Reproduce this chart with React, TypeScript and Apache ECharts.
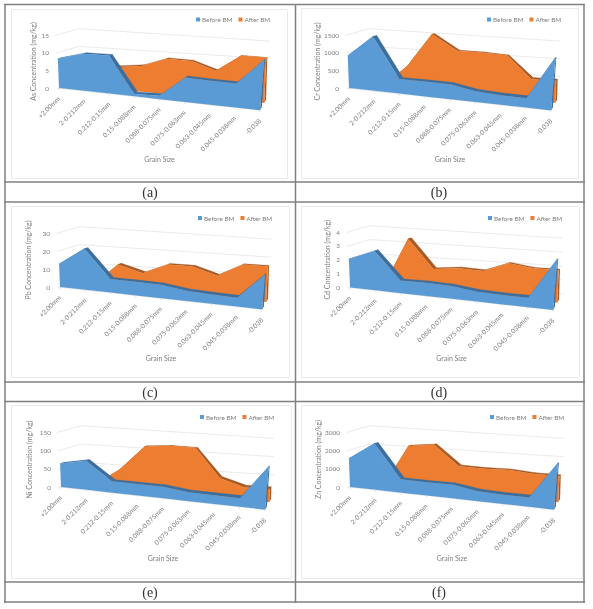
import React, { useEffect, useRef } from "react";
import * as echarts from "echarts";

const categories = ["+2.00mm", "2-0.212mm", "0.212-0.15mm", "0.15-0.088mm", "0.088-0.075mm", "0.075-0.063mm", "0.063-0.045mm", "0.045-0.038mm", "-0.038"];

const asBefore = [8.3, 9.9, 9.7, 0.6, 0.8, 5.4, 5.1, 4.9, 9.9];
const asAfter = [5, 6, 6.05, 6.7, 8.9, 8.65, 6.6, 10.5, 10.3];
const crBefore = [915, 1456, 374, 363, 346, 236, 204, 190, 1034];
const crAfter = [100, 30, 623, 1497, 1095, 1078, 1034, 504, 507];
const pbBefore = [12.8, 21.6, 6.8, 6.5, 6.1, 4.4, 3.9, 3.5, 13.4];
const pbAfter = [1, 1, 12.6, 9, 14.1, 13.9, 10.2, 16.1, 16];
const cdBefore = [2.05, 2.69, 0.82, 0.82, 0.75, 0.56, 0.5, 0.49, 2.54];
const cdAfter = [0.1, 0.05, 3.43, 1.48, 1.63, 1.56, 2.13, 1.9, 1.89];
const niBefore = [64, 75, 28, 27, 26, 19, 18, 17, 81];
const niAfter = [3, 5, 49, 111, 115, 113, 45, 28, 29];
const znBefore = [1560, 2390, 655, 620, 616, 426, 380, 366, 1755];
const znAfter = [100, 50, 2195, 2320, 1315, 1260, 1272, 1165, 1150];

const names = ["As", "Cr", "Pb", "Cd", "Ni", "Zn"];
const captions = ["(a)", "(b)", "(c)", "(d)", "(e)", "(f)"];
const before = [asBefore, crBefore, pbBefore, cdBefore, niBefore, znBefore];
const after = [asAfter, crAfter, pbAfter, cdAfter, niAfter, znAfter];
const yMax = [15, 1500, 30, 4, 150, 3000];
const yStep = [5, 500, 10, 1, 50, 1000];

const FONT = "Lato";
const GRAY = "#7f7f7f";
const BLUE = "#5b9bd5", BLUE_D = "#3c6e9e";
const ORANGE = "#ed7d31", ORANGE_D = "#a85a22";

// panel layout: [plot left, plot right, zero y, top-tick y, y-name gap, box x, box y, box w, box h, legend x, legend y, caption x, caption y]
const layout = [
  [59, 260, 88, 35, 23, 11, 9, 276, 169, 196, 16.5, 150, 192],
  [349, 551, 88, 35, 28, 301, 8, 277, 170, 487, 16.5, 439, 192],
  [60, 262, 287, 233, 29, 11, 206, 278, 171, 198, 215, 150, 392],
  [350, 553, 287.5, 232, 20, 301, 206, 278, 171, 488, 215, 439, 392],
  [61, 265, 487, 432, 29, 11, 405, 280, 173, 200, 414, 150, 592],
  [350, 554, 487, 432, 29, 301, 405, 281, 173, 490, 414, 439, 592],
];

const SLOPE = 0.111;
const K = 0.45;

function projector(api: any, left: number, right: number) {
  return (i: number, v: number, z: number) => {
    const c = api.coord([i, v]);
    const c0 = api.coord([i, 0]);
    const t = (c[0] - left) / (right - left);
    const h = c0[1] - c[1];
    const ox = 19.7 + (9.3 - 19.7) * t;
    const oy = -6.3 + (-16.3 + 6.3) * t;
    const X = c[0] + z * ox;
    const Y = c0[1] + SLOPE * (c[0] - left) + z * oy;
    const s = 1 + K * t * (1 - z);
    const lean = (-0.04 + 0.125 * t) * (1 - z);
    return [X + h * s * lean, Y - h * s];
  };
}

function layerItem(values: number[], left: number, right: number, z0: number, z1: number, face: string, dark: string) {
  return (params: any, api: any) => {
    if (params.dataIndex !== 0) return null;
    const P = projector(api, left, right);
    const n = values.length;
    const children: any[] = [];
    for (let i = 0; i < n - 1; i++) {
      children.push({
        type: "polygon",
        shape: { points: [P(i, values[i], z0), P(i + 1, values[i + 1], z0), P(i + 1, values[i + 1], z1), P(i, values[i], z1)] },
        style: { fill: dark, stroke: dark, lineWidth: 0.3 },
      });
    }
    children.push({
      type: "polygon",
      shape: { points: [P(n - 1, values[n - 1], z0), P(n - 1, values[n - 1], z1), P(n - 1, 0, z1), P(n - 1, 0, z0)] },
      style: { fill: dark },
    });
    const facePts: number[][] = [];
    for (let i = 0; i < n; i++) facePts.push(P(i, values[i], z0));
    for (let i = n - 1; i >= 0; i--) facePts.push(P(i, 0, z0));
    children.push({ type: "polygon", shape: { points: facePts }, style: { fill: face } });
    return { type: "group", children };
  };
}

function wallItem(max: number, step: number, left: number, right: number) {
  return (params: any, api: any) => {
    if (params.dataIndex !== 0) return null;
    const P = projector(api, left, right);
    const children: any[] = [];
    for (let v = 0; v <= max + 1e-9; v += step) {
      const a = P(0, v, -0.08), b = P(0, v, 1), c = P(categories.length - 1, v, 1);
      children.push({ type: "polyline", shape: { points: [a, b, c] }, style: { fill: "none", stroke: "#e4e4e4", lineWidth: 0.8 } });
    }
    return { type: "group", children };
  };
}

function labelItem(left: number, right: number) {
  return (params: any, api: any) => {
    const P = projector(api, left, right);
    const i = params.dataIndex;
    const p = P(i, 0, 0);
    return {
      type: "group",
      children: [
        { type: "line", shape: { x1: p[0], y1: p[1], x2: p[0], y2: p[1] + 2 }, style: { stroke: "#dcdcdc", lineWidth: 0.8 } },
        {
          type: "text",
          x: p[0] - 0.5,
          y: p[1] + 9,
          rotation: Math.PI / 4,
          style: { text: categories[i], textAlign: "right", textVerticalAlign: "middle", fontSize: 6.6, fontFamily: FONT, fill: GRAY },
        },
      ],
    };
  };
}

function baselineItem(left: number, right: number) {
  return (params: any, api: any) => {
    if (params.dataIndex !== 0) return null;
    const P = projector(api, left, right);
    return { type: "line", shape: { x1: P(0, 0, 0)[0] - 2, y1: P(0, 0, 0)[1], x2: P(8, 0, 0)[0], y2: P(8, 0, 0)[1] }, style: { stroke: "#e2e2e2", lineWidth: 0.8 } };
  };
}

function buildOption() {
  const grid: any[] = [], xAxis: any[] = [], yAxis: any[] = [], legend: any[] = [], series: any[] = [], graphic: any[] = [];
  layout.forEach((L, k) => {
    const [left, right, y0, yTop, nameGap, bx, by, bw, bh, lx, ly, cx, cy] = L;
    grid.push({ left, top: yTop, width: right - left, height: y0 - yTop });
    xAxis.push({
      gridIndex: k, type: "category", data: categories, boundaryGap: false,
      axisLine: { show: false }, axisTick: { show: false }, axisLabel: { show: false }, splitLine: { show: false },
      name: "Grain Size", nameLocation: "middle", nameGap: 67,
      nameTextStyle: { fontFamily: FONT, fontSize: 7, color: GRAY },
    });
    yAxis.push({
      gridIndex: k, type: "value", min: 0, max: yMax[k], interval: yStep[k],
      axisLine: { show: false }, axisTick: { show: false }, splitLine: { show: false },
      axisLabel: { fontFamily: FONT, fontSize: 6.5, color: GRAY, margin: 10, formatter: (v: number) => String(v) },
      name: names[k] + " Concentration (mg/kg)", nameLocation: "middle", nameGap,
      nameTextStyle: { fontFamily: FONT, fontSize: 7, color: GRAY },
    });
    legend.push({
      left: lx, top: ly, icon: "rect", itemWidth: 4, itemHeight: 4, itemGap: 6, padding: 0,
      selectedMode: false,
      data: ["Before BM", "After BM"],
      textStyle: { fontFamily: FONT, fontSize: 6.4, color: GRAY, padding: [0, 0, 0, -3] },
    });
    const pts = categories.map((_, i) => [i, 0]);
    const base = { type: "custom", xAxisIndex: k, yAxisIndex: k, silent: true, encode: { x: 0, y: 1 } };
    series.push({ ...base, name: "wall" + k, data: pts, renderItem: wallItem(yMax[k], yStep[k], left, right) });
    series.push({ ...base, name: "After BM", data: after[k].map((v, i) => [i, v]), itemStyle: { color: ORANGE }, renderItem: layerItem(after[k], left, right, 0.45, 0.65, ORANGE, ORANGE_D) });
    series.push({ ...base, name: "baseline" + k, data: pts, renderItem: baselineItem(left, right) });
    series.push({ ...base, name: "Before BM", data: before[k].map((v, i) => [i, v]), itemStyle: { color: BLUE }, renderItem: layerItem(before[k], left, right, 0, 0.2, BLUE, BLUE_D) });
    series.push({ ...base, name: "labels" + k, data: pts, renderItem: labelItem(left, right) });
    graphic.push({ type: "rect", z: -10, shape: { x: bx + 0.5, y: by + 0.5, width: bw, height: bh }, style: { fill: "#fff", stroke: "#eaeaea", lineWidth: 1 } });
    graphic.push({ type: "text", x: cx, y: cy, z: 5, style: { text: captions[k], textAlign: "center", textVerticalAlign: "middle", fontFamily: "Liberation Serif", fontSize: 14, fill: "#333" } });
  });
  const hLines = [4.5, 182, 202, 382, 401.5, 582, 602];
  const vLines = [5, 295.5, 584];
  hLines.forEach((y) => graphic.push({ type: "line", z: 5, shape: { x1: 4, y1: y, x2: 585, y2: y }, style: { stroke: "#808080", lineWidth: 1.5 } }));
  vLines.forEach((x) => graphic.push({ type: "line", z: 5, shape: { x1: x, y1: 4, x2: x, y2: 603 }, style: { stroke: "#808080", lineWidth: 1.5 } }));
  return { animation: false, backgroundColor: "#fff", grid, xAxis, yAxis, legend, series, graphic };
}

export default function App() {
  const ref = useRef<HTMLDivElement>(null);
  useEffect(() => {
    const chart = echarts.init(ref.current!, undefined, { renderer: "svg" });
    chart.setOption(buildOption() as any);
    return () => chart.dispose();
  }, []);
  return <div ref={ref} style={{ position: "absolute", left: 0, top: 0, width: 593, height: 609, filter: "blur(0.4px)" }} />;
}
